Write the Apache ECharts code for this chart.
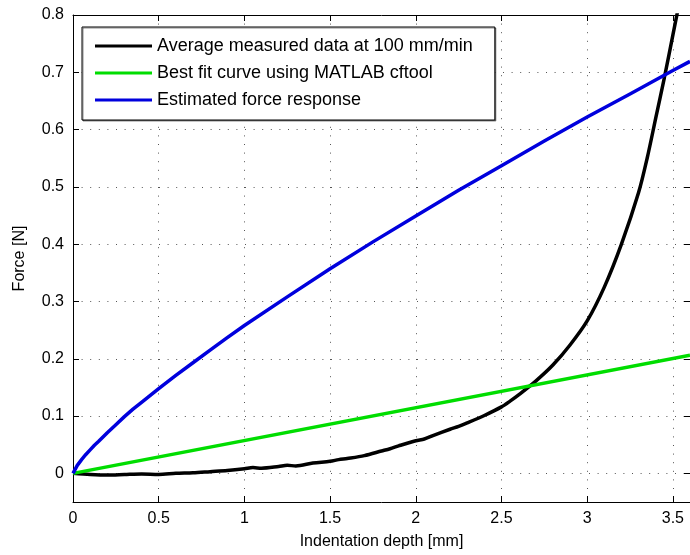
<!DOCTYPE html>
<html>
<head>
<meta charset="utf-8">
<script src="https://cdn.jsdelivr.net/npm/echarts@6/dist/echarts.min.js"></script>
<style>
html,body{margin:0;padding:0;background:#fff;}
#chart{width:690px;height:555px;}
</style>
</head>
<body>
<div id="chart"></div>
<script>
// ---- data ----
const seriesNames = [
  'Average measured data at 100 mm/min',
  'Best fit curve using MATLAB cftool',
  'Estimated force response'
];
const measuredX = [0, 0.1, 0.2, 0.3, 0.4, 0.5, 0.6, 0.7, 0.8, 0.9, 1.0, 1.05, 1.1, 1.2, 1.25, 1.3, 1.4, 1.5, 1.55, 1.6, 1.7, 1.8, 1.85, 1.9, 2.0, 2.05, 2.1, 2.2, 2.25, 2.3, 2.4, 2.5, 2.55, 2.6, 2.7, 2.8, 2.9, 3.0, 3.1, 3.2, 3.3, 3.35, 3.4, 3.45, 3.5, 3.53];
const measuredY = [0, -0.002, -0.003, -0.002, -0.001, -0.002, 0.0, 0.001, 0.003, 0.005, 0.008, 0.010, 0.009, 0.012, 0.014, 0.013, 0.018, 0.021, 0.024, 0.026, 0.031, 0.039, 0.043, 0.048, 0.057, 0.060, 0.066, 0.077, 0.082, 0.088, 0.101, 0.116, 0.126, 0.137, 0.161, 0.189, 0.224, 0.266, 0.325, 0.400, 0.490, 0.550, 0.620, 0.690, 0.765, 0.810];
const fitX = [0, 3.6];
const fitY = [0, 0.206];
const estX = [0, 0.025, 0.05, 0.075, 0.1, 0.125, 0.15, 0.2, 0.25, 0.3, 0.35, 0.4, 0.5, 0.6, 0.7, 0.8, 0.9, 1.0, 1.25, 1.5, 1.75, 2.0, 2.25, 2.5, 2.75, 3.0, 3.25, 3.5, 3.6];
const estY = [0, 0.014, 0.024, 0.033, 0.041, 0.049, 0.056, 0.071, 0.085, 0.099, 0.112, 0.124, 0.148, 0.171, 0.193, 0.215, 0.237, 0.258, 0.308, 0.357, 0.404, 0.449, 0.494, 0.537, 0.580, 0.622, 0.662, 0.703, 0.719];
const xTicks = [0, 0.5, 1, 1.5, 2, 2.5, 3, 3.5];
const yTicks = [0, 0.1, 0.2, 0.3, 0.4, 0.5, 0.6, 0.7, 0.8];
const colors = ['#000000', '#00dd00', '#0000dd'];

function zip(xs, ys) { return xs.map((x, i) => [x, ys[i]]); }

const chart = echarts.init(document.getElementById('chart'));
const font = 'Liberation Sans, Arial, sans-serif';
const gridLine = { show: true, lineStyle: { color: '#555', width: 1, type: [1, 7.6] } };

const option = {
  animation: false,
  backgroundColor: '#fff',
  grid: { left: 73, right: -1, top: 15, bottom: 51, containLabel: false },
  legend: {
    orient: 'vertical',
    left: 82, top: 27,
    padding: [10, 22, 11, 13],
    itemGap: 9,
    itemWidth: 57, itemHeight: 3,
    icon: 'rect',
    backgroundColor: '#fff',
    borderColor: '#000', borderWidth: 1,
    shadowColor: 'rgba(0,0,0,0.45)', shadowOffsetX: 1, shadowOffsetY: 1, shadowBlur: 0,
    textStyle: { fontFamily: font, fontSize: 18, color: '#000' },
    data: seriesNames
  },
  xAxis: [{
    type: 'value', min: 0, max: 3.6,
    name: 'Indentation depth [mm]', nameLocation: 'middle', nameGap: 32,
    nameTextStyle: { fontFamily: font, fontSize: 16, color: '#000' },
    axisLine: { show: true, onZero: false, lineStyle: { color: '#000', width: 1 } },
    axisTick: { show: true, inside: true, length: 6, customValues: xTicks, lineStyle: { color: '#000' } },
    axisLabel: { customValues: xTicks, margin: 9, fontFamily: font, fontSize: 16, color: '#000' },
    splitLine: gridLine
  }, {
    type: 'value', min: 0, max: 3.6, position: 'top',
    axisLine: { show: true, onZero: false, lineStyle: { color: '#000', width: 1 } },
    axisTick: { show: true, inside: true, length: 6, customValues: xTicks, lineStyle: { color: '#000' } },
    axisLabel: { show: false },
    splitLine: { show: false }
  }],
  yAxis: [{
    type: 'value', min: -0.05, max: 0.8,
    name: 'Force [N]', nameLocation: 'middle', nameGap: 45,
    nameTextStyle: { fontFamily: font, fontSize: 16, color: '#000' },
    axisLine: { show: true, onZero: false, lineStyle: { color: '#000', width: 1 } },
    axisTick: { show: true, inside: true, length: 6, customValues: yTicks, lineStyle: { color: '#000' } },
    axisLabel: { customValues: yTicks, margin: 9, fontFamily: font, fontSize: 16, color: '#000',
      formatter: v => (Math.round(v * 10) / 10).toString() },
    splitLine: gridLine
  }, {
    type: 'value', min: -0.05, max: 0.8, position: 'right',
    axisLine: { show: true, onZero: false, lineStyle: { color: '#000', width: 1 } },
    axisTick: { show: true, inside: true, length: 6, customValues: yTicks, lineStyle: { color: '#000' } },
    axisLabel: { show: false },
    splitLine: { show: false }
  }],
  series: [
    { name: seriesNames[0], type: 'line', data: zip(measuredX, measuredY), showSymbol: false, smooth: 0.3,
      lineStyle: { color: colors[0], width: 3.5 }, itemStyle: { color: colors[0] }, clip: true, z: 2 },
    { name: seriesNames[1], type: 'line', data: zip(fitX, fitY), showSymbol: false,
      lineStyle: { color: colors[1], width: 3.5 }, itemStyle: { color: colors[1] }, clip: true, z: 3 },
    { name: seriesNames[2], type: 'line', data: zip(estX, estY), showSymbol: false, smooth: false,
      lineStyle: { color: colors[2], width: 3.5, join: 'round' }, itemStyle: { color: colors[2] }, clip: true, z: 4 }
  ]
};
chart.setOption(option);
</script>
</body>
</html>
